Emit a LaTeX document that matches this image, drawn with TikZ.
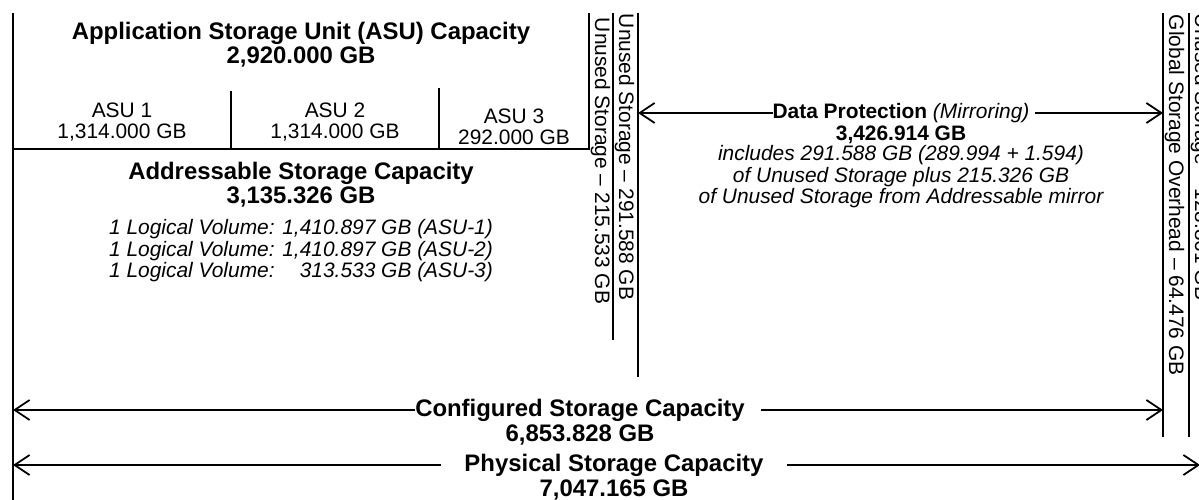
\documentclass[tikz,border=0pt]{standalone}
\usepackage{fontspec}
\setmainfont{Liberation Sans}
\usetikzlibrary{arrows.meta}

\tikzset{
  every node/.style={inner sep=0pt, outer sep=0pt},
  rule/.style={line width=1.8bp},
  dim/.style={line width=1.8bp, -{Straight Barb[length=15bp,width=20bp,line width=1.8bp]}},
  bigtext/.style={font=\fontsize{24}{24}\selectfont\bfseries, align=center},
  midtext/.style={font=\fontsize{21}{21.5}\selectfont, align=center},
  midbold/.style={font=\fontsize{21}{24}\selectfont\bfseries, align=center},
  notetext/.style={font=\fontsize{21}{21.5}\selectfont\itshape, align=center},
  vlabel/.style={font=\fontsize{21}{24}\selectfont, rotate=-90, anchor=base west},
}

\begin{document}
\begin{tikzpicture}[x=1bp, y=-1bp]
\useasboundingbox (0,0) rectangle (1199,500);

% frame lines
\draw[rule] (13,13) -- (13,500);
\draw[rule] (13,149) -- (589,149) -- (589,13);
\draw[rule] (231,91) -- (231,149);
\draw[rule] (439,88) -- (439,149);
\draw[rule] (613,13) -- (613,340);
\draw[rule] (638,13) -- (638,377);
\draw[rule] (1163,13) -- (1163,437);
\draw[rule] (1189,13) -- (1189,437);

% ASU block
\node[bigtext] (asutitle) at (301,45) {Application Storage Unit (ASU) Capacity\\2,920.000 GB};
\node[midtext] (asu1) at (122,122) {ASU 1\\1,314.000 GB};
\node[midtext] (asu2) at (335,122) {ASU 2\\1,314.000 GB};
\node[midtext] (asu3) at (514,127) {ASU 3\\292.000 GB};

% addressable block
\node[bigtext] (addr) at (301,185) {Addressable Storage Capacity\\3,135.326 GB};
\node[notetext] (vols) at (301,251)
  {1 Logical Volume: 1,410.897 GB (ASU-1)\\
   1 Logical Volume: 1,410.897 GB (ASU-2)\\
   1 Logical Volume: \hphantom{1,}313.533 GB (ASU-3)};

% unused and overhead columns
\node[vlabel] (unusedA) at (595,18) {Unused Storage – 215.533 GB};
\node[vlabel] (unusedB) at (619,14) {Unused Storage – 291.588 GB};
\node[vlabel] (overhead) at (1169,15) {Global Storage Overhead – 64.476 GB};
\node[vlabel] (unusedC) at (1195,14) {Unused Storage – 128.861 GB};

% data protection
\coordinate (dpL) at (638,113);
\coordinate (dpR) at (1163,113);
\node[font=\fontsize{21}{24}\selectfont] (dp) at (901,113) {\textbf{Data Protection} \textit{(Mirroring)}};
\node[midbold] (dpsize) at (901,135) {3,426.914 GB};
\node[notetext] (dpnote) at (901,177)
  {includes 291.588 GB (289.994 + 1.594)\\
   of Unused Storage plus 215.326 GB\\
   of Unused Storage from Addressable mirror};
\draw[dim] (dp.west) -- (dpL);
\draw[dim] ([xshift=6]dp.east) -- (dpR);

% configured
\coordinate (cfgL) at (13,410);
\coordinate (cfgR) at (1163,410);
\node[bigtext] (cfg) at (580,410) {Configured Storage Capacity};
\node[bigtext] (cfgsize) at (580,435) {6,853.828 GB};
\draw[dim] (cfg.west) -- (cfgL);
\draw[dim] ([xshift=16]cfg.east) -- (cfgR);

% physical
\coordinate (physL) at (13,465);
\coordinate (physR) at (1200,465);
\node[bigtext] (phys) at (614,465) {Physical Storage Capacity};
\node[bigtext] (physsize) at (614,490) {7,047.165 GB};
\draw[dim] ([xshift=-24]phys.west) -- (physL);
\draw[dim] ([xshift=24]phys.east) -- (physR);
\end{tikzpicture}
\end{document}
